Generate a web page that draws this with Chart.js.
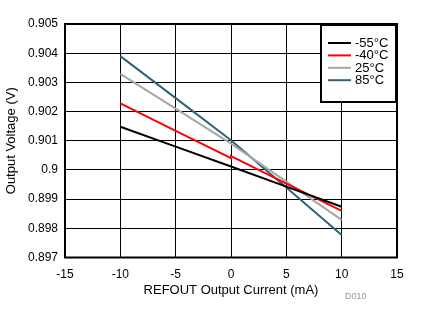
<!DOCTYPE html>
<html>
<head>
<meta charset="utf-8">
<script src="https://cdn.jsdelivr.net/npm/chart.js@4"></script>
<style>
  html, body { margin: 0; padding: 0; background: #fff; }
  #wrap { width: 434px; height: 324px; }
</style>
</head>
<body>
<div id="wrap"><canvas id="refoutChart"></canvas></div>
<script>
// sink sweep (-10..0) and source sweep (0..10), both measured at 0 mA
const currentMA = [-10, -5, 0, 0, 5, 10];
const tempLabels = ["-55°C", "-40°C", "25°C", "85°C"];
const vMinus55 = [0.90148, 0.90080, 0.90012, 0.90012, 0.89943, 0.89874];
const vMinus40 = [0.90228, 0.90134, 0.90040, 0.90047, 0.89953, 0.89860];
const v25 = [0.90329, 0.90210, 0.90090, 0.90090, 0.89960, 0.89829];
const v85 = [0.90390, 0.90246, 0.90102, 0.90102, 0.89940, 0.89777];
const lineColors = ["#000000", "#ff0000", "#a6a6a6", "#2f6379"];
const xTicks = [-15, -10, -5, 0, 5, 10, 15];
const yTicks = [0.897, 0.898, 0.899, 0.9, 0.901, 0.902, 0.903, 0.904, 0.905];

const seriesValues = [vMinus55, vMinus40, v25, v85];
const fontFamily = "'Liberation Sans', Arial, sans-serif";

function toPoints(vals) {
  return vals.map((v, i) => ({ x: currentMA[i], y: v }));
}

// legend box sitting over the top-right corner of the plot
const boxLegend = {
  id: "boxLegend",
  afterDraw(chart) {
    const ctx = chart.ctx;
    const area = chart.chartArea;
    const bx = 321, by = area.top + 1, bw = 75, bh = 77;
    ctx.save();
    ctx.fillStyle = "#fff";
    ctx.fillRect(bx, by, bw, bh);
    ctx.strokeStyle = "#000";
    ctx.lineWidth = 2;
    ctx.strokeRect(bx, by, bw, bh);
    ctx.font = "13px " + fontFamily;
    ctx.textBaseline = "middle";
    chart.data.datasets.forEach((ds, i) => {
      const y = by + 18 + i * 12.4;
      ctx.strokeStyle = ds.borderColor;
      ctx.lineWidth = 2;
      ctx.beginPath();
      ctx.moveTo(bx + 7, y);
      ctx.lineTo(bx + 30, y);
      ctx.stroke();
      ctx.fillStyle = "#000";
      ctx.fillText(ds.label, bx + 34, y + 0.5);
    });
    ctx.fillStyle = "#999";
    ctx.font = "9px " + fontFamily;
    ctx.fillText("D010", 345, 297);
    ctx.restore();
  }
};

// thick frame around the plotting area
const plotFrame = {
  id: "plotFrame",
  afterDatasetsDraw(chart) {
    const a = chart.chartArea;
    const ctx = chart.ctx;
    ctx.save();
    ctx.strokeStyle = "#000";
    ctx.lineWidth = 2;
    ctx.strokeRect(a.left, a.top, a.right - a.left, a.bottom - a.top);
    ctx.restore();
  }
};

new Chart(document.getElementById("refoutChart"), {
  type: "line",
  data: {
    datasets: seriesValues.map((vals, i) => ({
      label: tempLabels[i],
      data: toPoints(vals),
      borderColor: lineColors[i],
      borderWidth: 2,
      pointRadius: 0,
      tension: 0,
      fill: false
    }))
  },
  options: {
    responsive: true,
    maintainAspectRatio: false,
    animation: false,
    events: [],
    layout: { padding: { left: 0, top: 24, right: 37, bottom: 22 } },
    plugins: {
      legend: { display: false },
      tooltip: { enabled: false }
    },
    scales: {
      x: {
        type: "linear",
        min: -15,
        max: 15,
        afterBuildTicks: (s) => { s.ticks = xTicks.map((v) => ({ value: v })); },
        afterFit: (s) => { s.height = 44.5; },
        grid: { color: "#000", lineWidth: 1, drawTicks: false },
        border: { display: false },
        ticks: {
          color: "#000",
          padding: 10,
          maxRotation: 0,
          font: { family: fontFamily, size: 12 }
        },
        title: {
          display: true,
          text: "REFOUT Output Current (mA)",
          color: "#000",
          font: { family: fontFamily, size: 13 }
        }
      },
      y: {
        min: 0.897,
        max: 0.905,
        afterBuildTicks: (s) => { s.ticks = yTicks.map((v) => ({ value: v })); },
        afterFit: (s) => { s.width = 65; },
        grid: { color: "#000", lineWidth: 1, drawTicks: false },
        border: { display: false },
        ticks: {
          color: "#000",
          padding: 7,
          font: { family: fontFamily, size: 12 },
          callback: (v) => String(Number(v.toFixed(3)))
        },
        title: {
          display: true,
          text: "Output Voltage (V)",
          color: "#000",
          font: { family: fontFamily, size: 13 }
        }
      }
    }
  },
  plugins: [plotFrame, boxLegend]
});
</script>
</body>
</html>
